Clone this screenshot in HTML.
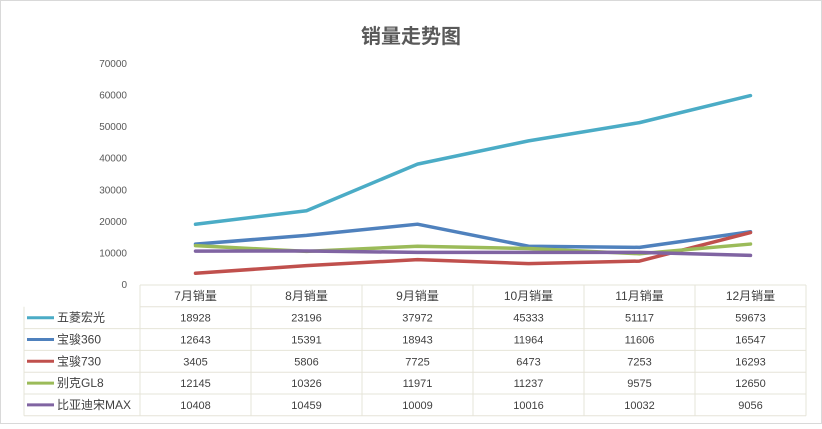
<!DOCTYPE html>
<html><head><meta charset="utf-8"><style>
body{margin:0;background:#fff;}
svg text{font-family:"Liberation Sans","Noto Sans CJK SC",sans-serif;}
</style></head><body>
<svg width="822" height="424" id="c">
<rect x="0.5" y="0.5" width="821" height="423" fill="#fff" stroke="#d9d9d9"/>
<text x="411" y="43" text-anchor="middle" font-size="20" font-weight="bold" fill="#595959">销量走势图</text>
<g id="axis"></g><g id="lines"></g><g id="table"></g>
</svg>
<script>
const categories=["7月销量","8月销量","9月销量","10月销量","11月销量","12月销量"];
const seriesNames=["五菱宏光","宝骏360","宝骏730","别克GL8","比亚迪宋MAX"];
const s1=[18928,23196,37972,45333,51117,59673];
const s2=[12643,15391,18943,11964,11606,16547];
const s3=[3405,5806,7725,6473,7253,16293];
const s4=[12145,10326,11971,11237,9575,12650];
const s5=[10408,10459,10009,10016,10032,9056];
const yTicks=[0,10000,20000,30000,40000,50000,60000,70000];
const colors=["#4bacc6","#4f81bd","#c0504d","#9bbb59","#8064a2"];
const series=[s1,s2,s3,s4,s5];
const NS="http://www.w3.org/2000/svg";
const x0=140,x1=806,y0=284,yTop=63,yMax=70000;
const cw=(x1-x0)/categories.length;
const xs=i=>x0+cw*(i+0.5);
const ys=v=>y0-(v/yMax)*(y0-yTop);
function mk(t,a,p){const e=document.createElementNS(NS,t);for(const k in a)e.setAttribute(k,a[k]);p.appendChild(e);return e;}
const ax=document.getElementById('axis');
yTicks.forEach(v=>{const t=mk('text',{x:127,y:ys(v)+4,'text-anchor':'end','font-size':10,fill:'#595959'},ax);t.textContent=v;

});
const lg=document.getElementById('lines');
series.forEach((s,k)=>{const p=mk('polyline',{points:s.map((v,i)=>xs(i)+','+ys(v)).join(' '),fill:'none',stroke:colors[k],'stroke-width':3.5,'stroke-linejoin':'round','stroke-linecap':'round'},lg);

});
const tb=document.getElementById('table');
const rowTop=285,rh=21.8,bc="#e6e4d8";
mk('line',{x1:x0,y1:rowTop,x2:x1,y2:rowTop,stroke:bc},tb);
for(let r=1;r<=6;r++){mk('line',{x1:r==1?x0:24,y1:rowTop+rh*r,x2:x1,y2:rowTop+rh*r,stroke:bc},tb);}
for(let r=0;r<=6;r++){}
mk('line',{x1:24,y1:rowTop+rh,x2:24,y2:rowTop+rh*6,stroke:bc},tb);
for(let c=0;c<=6;c++)mk('line',{x1:x0+cw*c,y1:rowTop,x2:x0+cw*c,y2:rowTop+rh*6,stroke:bc},tb);
categories.forEach((c,i)=>{const t=mk('text',{x:xs(i),y:rowTop+rh/2+4,'text-anchor':'middle','font-size':12,fill:'#404040'},tb);t.textContent=c;

});
series.forEach((s,k)=>{const cy=rowTop+rh*(k+1)+rh/2;
const l=mk('line',{x1:27,y1:cy,x2:54,y2:cy,stroke:colors[k],'stroke-width':3},tb);


const n=mk('text',{x:57,y:cy+4,'font-size':12,fill:'#404040'},tb);n.textContent=seriesNames[k];


s.forEach((v,i)=>{const t=mk('text',{x:xs(i),y:cy+4,'text-anchor':'middle','font-size':11,fill:'#404040'},tb);t.textContent=v;

});});
</script>
</body></html>
